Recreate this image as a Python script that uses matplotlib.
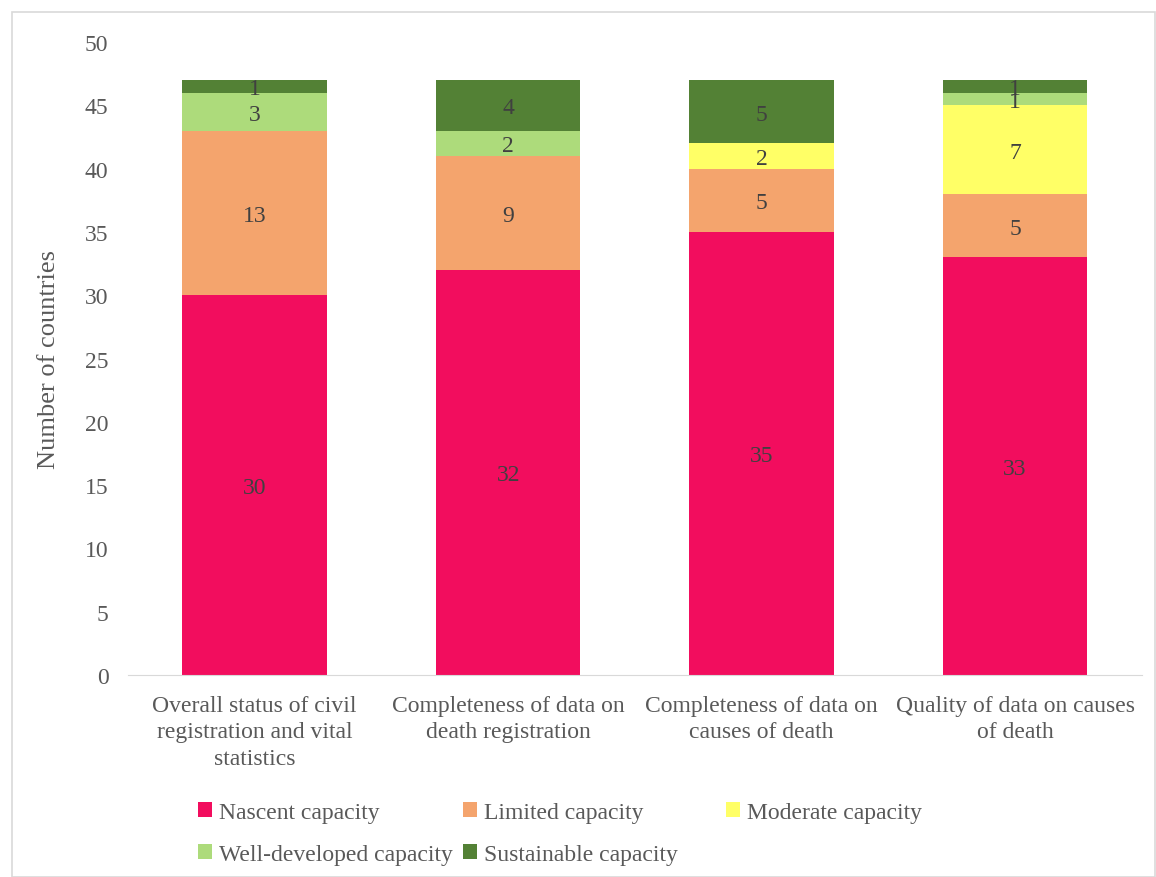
import matplotlib.pyplot as plt
from matplotlib.patches import Rectangle, Patch
import numpy as np

plt.rcParams['font.family'] = ['Liberation Serif', 'DejaVu Serif']

categories = ["Overall status of civil\nregistration and vital\nstatistics",
              "Completeness of data on\ndeath registration",
              "Completeness of data on\ncauses of death",
              "Quality of data on causes\nof death"]
series_names = ["Nascent capacity", "Limited capacity", "Moderate capacity",
                "Well-developed capacity", "Sustainable capacity"]
nascent = [30, 32, 35, 33]
limited = [13, 9, 5, 5]
moderate = [0, 0, 2, 7]
well_developed = [3, 2, 0, 1]
sustainable = [1, 4, 5, 1]
colors = ["#F20D5E", "#F4A46D", "#FFFF66", "#ADDB7B", "#538135"]

fig = plt.figure(figsize=(11.56, 8.78), dpi=100)
ax = fig.add_axes([0.1107, 0.230, 0.877, 0.721])

x = np.arange(len(categories))
bottom = np.zeros(len(categories))
handles = []
for name, vals, col in zip(series_names,
                           [nascent, limited, moderate, well_developed, sustainable],
                           colors):
    vals = np.array(vals)
    ax.bar(x, vals, 0.57, bottom=bottom, color=col, edgecolor='none')
    for xi, b, v in zip(x, bottom, vals):
        if v > 0:
            ax.text(xi, b + v / 2, str(v), ha='center', va='center_baseline',
                    fontsize=17, color='#404040')
    bottom += vals
    handles.append(Patch(facecolor=col, label=name))

ax.set_xlim(-0.5, len(categories) - 0.5)
ax.set_ylim(0, 50)
ax.set_yticks(range(0, 51, 5))
ax.set_xticks(x)
ax.set_xticklabels(categories, fontsize=17, color='#595959', linespacing=1.35)
ax.tick_params(axis='y', labelsize=17, labelcolor='#595959', length=0, pad=14)
ax.tick_params(axis='x', length=0, pad=14)
for s in ['top', 'right', 'left']:
    ax.spines[s].set_visible(False)
ax.spines['bottom'].set_color('#D9D9D9')
ax.set_ylabel("Number of countries", fontsize=19, color='#595959', labelpad=18)

# legend laid out like the original grid: one legend per column
columns = [[0, 3], [1, 4], [2]]
col_x = [198 / 1156, 463 / 1156, 726 / 1156]
for idx, cx in zip(columns, col_x):
    leg = fig.legend([handles[i] for i in idx], [series_names[i] for i in idx],
                     loc='upper left', bbox_to_anchor=(cx, 1 - 803 / 878),
                     frameon=False, fontsize=17, handlelength=0.6,
                     handleheight=0.6, handletextpad=0.3, labelspacing=0.9,
                     borderaxespad=0, borderpad=0)
    for t in leg.get_texts():
        t.set_color('#595959')

fig.patches.append(Rectangle((12 / 1156, 0), 1 - 12 / 1156 - 0.0005, 1 - 13 / 878,
                             transform=fig.transFigure, fill=False,
                             edgecolor='#D9D9D9', linewidth=1.2))

fig.savefig('out.png', dpi=100)
